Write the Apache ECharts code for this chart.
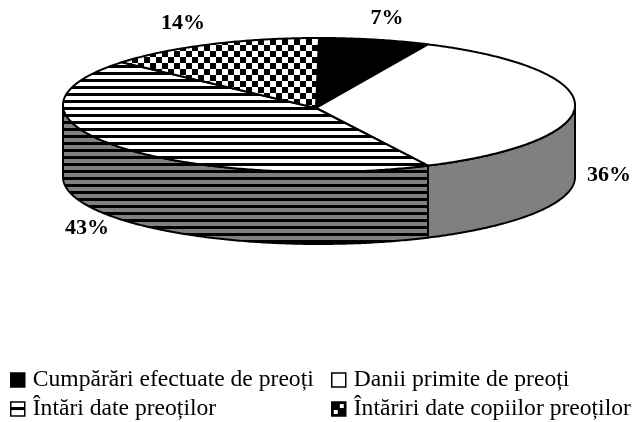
<!DOCTYPE html>
<html>
<head>
<meta charset="utf-8">
<style>html,body{margin:0;padding:0;background:#fff}#chart{width:634px;height:422px}</style>
<script src="https://cdn.jsdelivr.net/npm/echarts@6/dist/echarts.min.js"></script>
</head>
<body>
<div id="chart"></div>
<script>
const categories = ['Cumpărări efectuate de preoți', 'Danii primite de preoți', 'Întări date preoților', 'Întăriri date copiilor preoților'];
const seriesValues = [7, 36, 43, 14];

// pie geometry on the page
const cx = 319, cy = 105, rx = 256, ry = 67, depth = 72;
const apex = [316, 108];
const labelPos = [[387, 18], [609, 175], [87, 228], [183, 23]];

function tile(w, h, draw) {
    const c = document.createElement('canvas');
    c.width = w; c.height = h;
    draw(c.getContext('2d'));
    return { image: c, repeat: 'repeat' };
}
function stripes(bg) {
    return tile(4, 7, function (g) {
        g.fillStyle = bg; g.fillRect(0, 0, 4, 7);
        g.fillStyle = '#000'; g.fillRect(0, 2, 4, 3);
    });
}
const checker = tile(12, 12, function (g) {
    g.fillStyle = '#fff'; g.fillRect(0, 0, 12, 12);
    g.fillStyle = '#000';
    g.fillRect(6, 3, 6, 6); g.fillRect(0, 9, 6, 3); g.fillRect(0, 0, 6, 3);
});
const iconHatch = tile(14, 14, function (g) {
    g.fillStyle = '#fff'; g.fillRect(0, 0, 14, 14);
    g.fillStyle = '#000'; g.fillRect(0, 5, 14, 3);
});
const iconCheck = tile(14, 14, function (g) {
    g.fillStyle = '#000'; g.fillRect(0, 0, 14, 14);
    g.fillStyle = '#fff'; g.fillRect(8, 2, 4, 4); g.fillRect(2, 8, 4, 4);
});

const topFill = ['#000', '#fff', stripes('#fff'), checker];
const wallFill = ['#808080', '#808080', stripes('#808080'), '#808080'];
const iconFill = ['#000', '#fff', iconHatch, iconCheck];

const total = seriesValues.reduce(function (a, b) { return a + b; }, 0);

function rimPoint(t, dy) {
    return [cx + rx * Math.sin(t), cy - ry * Math.cos(t) + dy];
}
function arcPoints(a, b, dy) {
    const pts = [];
    const n = Math.max(2, Math.ceil((b - a) / 0.01));
    for (let i = 0; i <= n; i++) pts.push(rimPoint(a + (b - a) * i / n, dy));
    return pts;
}

function makeRender(idx) {
    const before = seriesValues.slice(0, idx).reduce(function (a, b) { return a + b; }, 0);
    return function (params, api) {
        const a = before / total * Math.PI * 2;
        const b = a + api.value(0) / total * Math.PI * 2;
        const children = [];
        // side wall, only the front half of the rim shows it
        const wa = Math.max(a, Math.PI / 2), wb = Math.min(b, Math.PI * 1.5);
        if (wb > wa) {
            const upper = arcPoints(wa, wb, 0);
            const lower = arcPoints(wa, wb, depth).reverse();
            children.push({
                type: 'polygon',
                shape: { points: upper.concat(lower) },
                style: { fill: wallFill[idx], stroke: '#000', lineWidth: 2 }
            });
        }
        children.push({
            type: 'polygon',
            shape: { points: [apex].concat(arcPoints(a, b, 0)) },
            style: { fill: topFill[idx], stroke: '#000', lineWidth: 2, lineJoin: 'round' }
        });
        children.push({
            type: 'text',
            style: {
                x: labelPos[idx][0], y: labelPos[idx][1],
                text: api.value(0) + '%',
                fill: '#000',
                font: 'bold 22px "Liberation Serif"',
                align: 'center', verticalAlign: 'middle'
            }
        });
        return { type: 'group', children: children };
    };
}

const legendStyle = {
    orient: 'vertical',
    top: 368,
    padding: 0,
    itemWidth: 14,
    itemHeight: 14,
    itemGap: 5,
    selectedMode: false,
    textStyle: { color: '#000', fontFamily: 'Liberation Serif', fontSize: 23.6, padding: [0, 0, 0, 3] }
};
function legendItems(list) {
    return list.map(function (i) {
        return {
            name: categories[i],
            icon: 'rect',
            itemStyle: { color: iconFill[i], borderColor: '#000', borderWidth: 1.5 }
        };
    });
}

const option = {
    backgroundColor: '#fff',
    animation: false,
    legend: [
        Object.assign({ left: 10, data: legendItems([0, 2]) }, legendStyle),
        Object.assign({ left: 331, data: legendItems([1, 3]) }, legendStyle)
    ],
    series: categories.map(function (name, i) {
        return {
            type: 'custom',
            name: name,
            coordinateSystem: 'none',
            silent: true,
            renderItem: makeRender(i),
            data: [[seriesValues[i]]]
        };
    })
};

const myChart = echarts.init(document.getElementById('chart'));
myChart.setOption(option);
</script>
</body>
</html>
